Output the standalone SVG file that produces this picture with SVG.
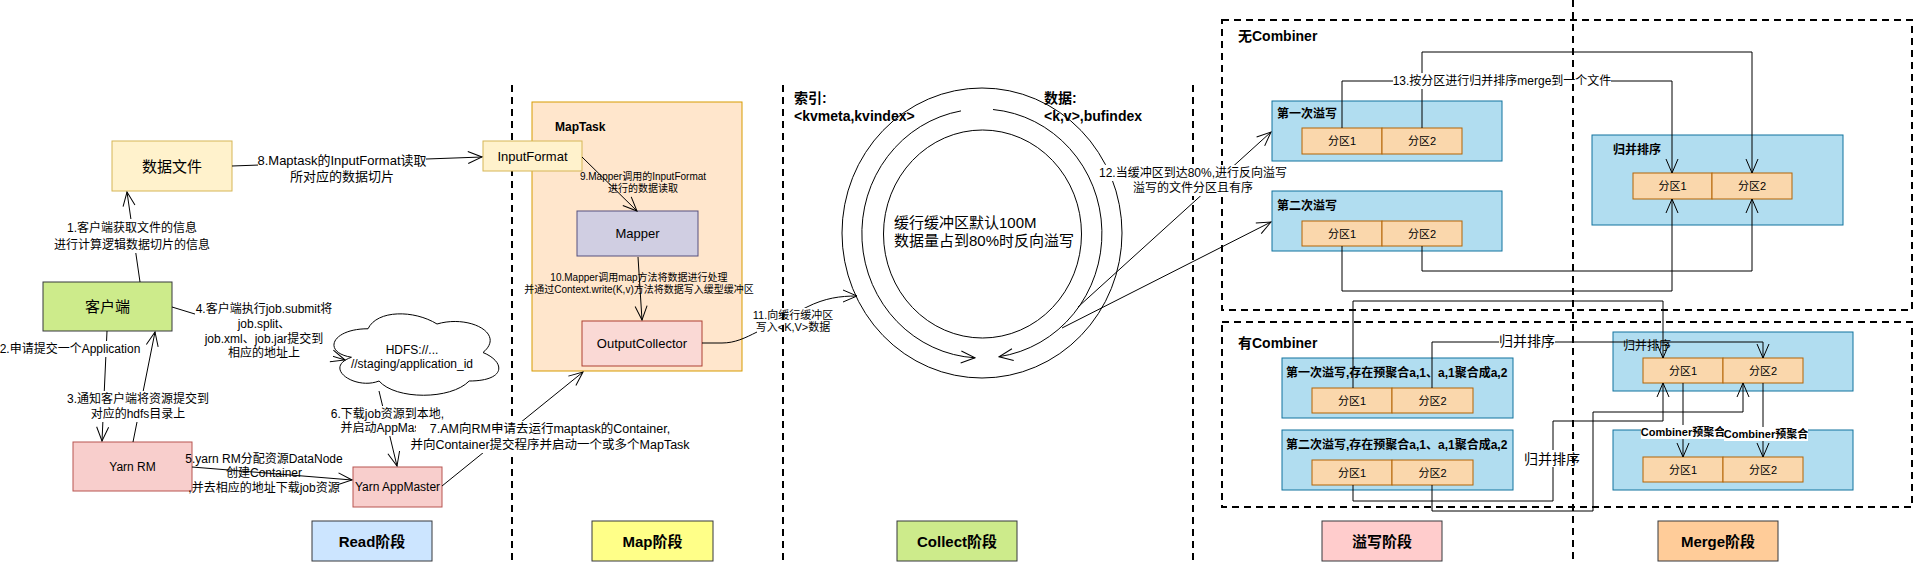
<svg xmlns="http://www.w3.org/2000/svg" width="1914" height="563" viewBox="0 0 1914 563">
<defs>
<style>
text{font-family:"Liberation Sans","Noto Sans CJK SC",sans-serif;fill:#000;dominant-baseline:central}
.c{text-anchor:middle}
.b{font-weight:bold}
.ln{stroke:#000;stroke-width:1;fill:none}
.ar{marker-end:url(#arr)}
.dash{stroke:#000;stroke-width:2;stroke-dasharray:7 5;fill:none}
.bg{fill:#fff}
.f10{font-size:10px}
.f11{font-size:11px}
.f12{font-size:12px}
.f13{font-size:13px}
.f14{font-size:14px}
.f15{font-size:15px}
.spill{fill:#b1ddf0;stroke:#10739e}
.part{fill:#fad7ac;stroke:#b46504}
.phase{stroke:#36393d}
</style>
<marker id="arr" markerUnits="userSpaceOnUse" markerWidth="16" markerHeight="14" viewBox="0 0 16 14" refX="15" refY="7" orient="auto"><path d="M1,1 L15,7 L1,13" fill="none" stroke="#000" stroke-width="1"/></marker>
</defs>
<rect x="0" y="0" width="1914" height="563" fill="#fff"/>

<g id="containers">
<line class="dash" x1="512" y1="85" x2="512" y2="563"/>
<line class="dash" x1="1193" y1="85" x2="1193" y2="563"/>
<rect class="dash" x="1222" y="20" width="690" height="290"/>
<text class="b f14" x="1238" y="36">无Combiner</text>
<rect class="dash" x="1222" y="322" width="690" height="185"/>
<text class="b f14" x="1238" y="343">有Combiner</text>
</g>

<g id="data-file"><rect x="112" y="141" width="120" height="50" fill="#fff2cc" stroke="#d6b656"/><text class="c f15" x="172" y="166">数据文件</text></g>
<g id="client"><rect x="43" y="282" width="129" height="49" fill="#cdeb8b" stroke="#36393d"/><text class="c f15" x="107.5" y="306.5">客户端</text></g>
<g id="yarn-rm"><rect x="73" y="442" width="119" height="49" fill="#f8cecc" stroke="#b85450"/><text class="c f12" x="132.5" y="466.5">Yarn RM</text></g>
<g id="app-master"><rect x="353" y="467" width="89" height="40" fill="#f8cecc" stroke="#b85450"/><text class="c f12" x="397.5" y="487">Yarn AppMaster</text></g>
<g id="hdfs">
<path d="M368,328.75 C331.2,328.75 322,352.5 351.44,357.25 C322,367.7 355.12,390.5 379.04,381 C395.6,400 450.8,400 469.2,381 C506,381 506,362 483,352.5 C506,333.5 469.2,314.5 437,324 C414,309.75 377.2,309.75 368,328.75 Z" fill="#fff" stroke="#000"/>
<text class="c f12" x="412" y="350">HDFS://...</text>
<text class="c f12" x="412" y="364">//staging/application_id</text>
</g>
<g id="maptask"><rect x="532" y="102" width="210" height="269" fill="#ffe6cc" stroke="#d79b00"/><text class="b f12" x="555" y="127">MapTask</text></g>
<g id="inputformat"><rect x="483" y="141" width="99" height="30" fill="#fff2cc" stroke="#d6b656"/><text class="c f13" x="532.5" y="156">InputFormat</text></g>
<g id="mapper"><rect x="577" y="211" width="121" height="45" fill="#d0cee2" stroke="#56517e"/><text class="c f13" x="637.5" y="233.5">Mapper</text></g>
<g id="outputcollector"><rect x="582" y="321" width="120" height="45" fill="#fad9d5" stroke="#ae4132"/><text class="c f13" x="642" y="343.5">OutputCollector</text></g>

<g id="ring-buffer">
<ellipse cx="982" cy="233" rx="140" ry="145" fill="none" stroke="#000"/>
<ellipse cx="982.5" cy="234" rx="99" ry="104" fill="none" stroke="#000"/>
<text class="f15" x="894" y="222">缓行缓冲区默认100M</text>
<text class="f15" x="894" y="240">数据量占到80%时反向溢写</text>
</g>
<g id="index-label"><text class="b f14" x="794" y="98">索引:</text><text class="b f14" x="794" y="116">&lt;kvmeta,kvindex&gt;</text></g>
<g id="data-label"><text class="b f14" x="1044" y="98">数据:</text><text class="b f14" x="1044" y="116">&lt;k,v&gt;,bufindex</text></g>

<g id="spill1-nc"><rect class="spill" x="1272" y="101" width="230" height="60"/><text class="b f12" x="1277" y="114">第一次溢写</text>
<rect class="part" x="1302" y="128" width="80" height="26"/><text class="c f11" x="1342" y="141">分区1</text>
<rect class="part" x="1382" y="128" width="80" height="26"/><text class="c f11" x="1422" y="141">分区2</text></g>
<g id="spill2-nc"><rect class="spill" x="1272" y="191" width="230" height="60"/><text class="b f12" x="1277" y="206">第二次溢写</text>
<rect class="part" x="1302" y="221" width="80" height="25"/><text class="c f11" x="1342" y="233.5">分区1</text>
<rect class="part" x="1382" y="221" width="80" height="25"/><text class="c f11" x="1422" y="233.5">分区2</text></g>
<g id="merge-nc"><rect class="spill" x="1592" y="135" width="251" height="90"/><text class="b f12" x="1613" y="150">归并排序</text>
<rect class="part" x="1633" y="173" width="79" height="26"/><text class="c f11" x="1672.5" y="186">分区1</text>
<rect class="part" x="1712" y="173" width="80" height="26"/><text class="c f11" x="1752" y="186">分区2</text></g>

<g id="spill1-c"><rect class="spill" x="1282" y="358" width="231" height="60"/><text class="b f12" x="1286" y="373">第一次溢写,存在预聚合a,1、a,1聚合成a,2</text>
<rect class="part" x="1312" y="388" width="80" height="25"/><text class="c f11" x="1352" y="400.5">分区1</text>
<rect class="part" x="1392" y="388" width="81" height="25"/><text class="c f11" x="1432.5" y="400.5">分区2</text></g>
<g id="spill2-c"><rect class="spill" x="1282" y="430" width="231" height="60"/><text class="b f12" x="1286" y="445">第二次溢写,存在预聚合a,1、a,1聚合成a,2</text>
<rect class="part" x="1312" y="460" width="80" height="25"/><text class="c f11" x="1352" y="472.5">分区1</text>
<rect class="part" x="1392" y="460" width="81" height="25"/><text class="c f11" x="1432.5" y="472.5">分区2</text></g>
<g id="merge-c"><rect class="spill" x="1613" y="332" width="240" height="59"/><text class="f12" x="1623" y="346">归并排序</text>
<rect class="part" x="1643" y="358" width="80" height="25"/><text class="c f11" x="1683" y="370.5">分区1</text>
<rect class="part" x="1723" y="358" width="80" height="25"/><text class="c f11" x="1763" y="370.5">分区2</text></g>
<g id="combine-c"><rect class="spill" x="1613" y="430" width="240" height="60"/>
<rect class="part" x="1643" y="457" width="80" height="25"/><text class="c f11" x="1683" y="469.5">分区1</text>
<rect class="part" x="1723" y="457" width="80" height="25"/><text class="c f11" x="1763" y="469.5">分区2</text></g>

<g id="phase-read"><rect class="phase" x="312" y="521" width="120" height="40" fill="#cce5ff"/><text class="c b f15" x="372" y="541">Read阶段</text></g>
<g id="phase-map"><rect class="phase" x="592" y="521" width="121" height="40" fill="#ffff88"/><text class="c b f15" x="652.5" y="541">Map阶段</text></g>
<g id="phase-collect"><rect class="phase" x="897" y="521" width="120" height="40" fill="#cdeb8b"/><text class="c b f15" x="957" y="541">Collect阶段</text></g>
<g id="phase-spill"><rect class="phase" x="1322" y="521" width="120" height="40" fill="#ffcccc"/><text class="c b f15" x="1382" y="541">溢写阶段</text></g>
<g id="phase-merge"><rect class="phase" x="1658" y="521" width="120" height="40" fill="#ffcc99"/><text class="c b f15" x="1718" y="541">Merge阶段</text></g>

<g id="connectors">
<line class="ln ar" x1="140" y1="282" x2="127" y2="192"/>
<line class="ln ar" x1="232" y1="166" x2="482" y2="157"/>
<line class="ln ar" x1="107" y1="331" x2="102" y2="441"/>
<line class="ln ar" x1="133" y1="442" x2="155" y2="332"/>
<line class="ln ar" x1="172" y1="307" x2="345" y2="360"/>
<line class="ln ar" x1="192" y1="467" x2="352" y2="480"/>
<line class="ln ar" x1="379" y1="391" x2="397" y2="466"/>
<line class="ln ar" x1="442" y1="486" x2="583" y2="372"/>
<line class="ln ar" x1="582" y1="157" x2="637" y2="211"/>
<line class="ln ar" x1="638" y1="257" x2="642" y2="320"/>
<path class="ln ar" d="M702,343 L722,343 C735,343 745,338 757,332 L807,307 C825,298 840,296 857,296"/>
<path class="ln ar" d="M961,110.9 A120,124.5 0 0 0 975,357.8"/>
<path class="ln ar" d="M993,109.5 A120,124.5 0 0 1 999,356.7"/>
<line class="ln ar" x1="1078" y1="307" x2="1271" y2="132"/>
<line class="ln ar" x1="1062" y1="328" x2="1271" y2="222"/>
<polyline class="ln ar" points="1342,128 1342,81 1672,81 1672,173"/>
<polyline class="ln ar" points="1422,128 1422,52 1752,52 1752,173"/>
<polyline class="ln ar" points="1342,246 1342,291 1672,291 1672,199"/>
<polyline class="ln ar" points="1422,246 1422,271 1752,271 1752,199"/>
<polyline class="ln ar" points="1353,388 1353,301 1663,301 1663,358"/>
<polyline class="ln ar" points="1432,388 1432,342 1763,342 1763,358"/>
<polyline class="ln ar" points="1353,485 1353,501 1553,501 1553,421 1663,421 1663,383"/>
<polyline class="ln ar" points="1432,485 1432,511 1593,511 1593,412 1743,412 1743,383"/>
<line class="ln ar" x1="1683" y1="383" x2="1683" y2="457"/>
<line class="ln ar" x1="1763" y1="383" x2="1763" y2="457"/>

<rect class="bg" x="54" y="219" width="156" height="34"/>
<text class="c f12" x="132" y="228">1.客户端获取文件的信息</text>
<text class="c f12" x="132" y="245">进行计算逻辑数据切片的信息</text>
<rect class="bg" x="258" y="151" width="168" height="33"/>
<text class="c f13" x="342" y="160">8.Maptask的InputFormat读取</text>
<text class="c f13" x="342" y="176">所对应的数据切片</text>
<rect class="bg" x="0" y="341" width="141" height="16"/>
<text class="c f12" x="70" y="349">2.申请提交一个Application</text>
<rect class="bg" x="67" y="391" width="142" height="31"/>
<text class="c f12" x="138" y="399">3.通知客户端将资源提交到</text>
<text class="c f12" x="138" y="414">对应的hdfs目录上</text>
<rect class="bg" x="195" y="301" width="138" height="60"/>
<text class="c f12" x="264" y="309">4.客户端执行job.submit将</text>
<text class="c f12" x="264" y="324">job.split、</text>
<text class="c f12" x="264" y="339">job.xml、job.jar提交到</text>
<text class="c f12" x="264" y="353">相应的地址上</text>
<text class="c f12" x="264" y="459">5.yarn RM分配资源DataNode</text>
<text class="c f12" x="264" y="473">创建Container</text>
<text class="c f12" x="264" y="488">,并去相应的地址下载job资源</text>
<rect class="bg" x="330" y="406" width="115" height="30"/>
<text class="c f12" x="387.5" y="414">6.下载job资源到本地,</text>
<text class="c f12" x="387.5" y="428">并启动AppMaster</text>
<rect class="bg" x="416" y="421" width="269" height="32"/>
<text class="c" font-size="12.5" x="550" y="429">7.AM向RM申请去运行maptask的Container,</text>
<text class="c" font-size="12.5" x="550" y="445">并向Container提交程序并启动一个或多个MapTask</text>
<text class="c f10" x="643" y="176">9.Mapper调用的InputFormat</text>
<text class="c f10" x="643" y="188">进行的数据读取</text>
<text class="c f10" x="639" y="277">10.Mapper调用map方法将数据进行处理</text>
<text class="c f10" x="639" y="289">并通过Context.write(K,v)方法将数据写入缓型缓冲区</text>
<rect class="bg" x="757" y="308" width="72" height="26"/>
<text class="c f11" x="793" y="315">11.向缓行缓冲区</text>
<text class="c f11" x="793" y="327">写入&lt;K,V&gt;数据</text>
<rect class="bg" x="1099" y="165" width="189" height="16"/>
<rect class="bg" x="1133" y="181" width="121" height="15"/>
<text class="c f12" x="1193" y="173">12.当缓冲区到达80%,进行反向溢写</text>
<text class="c f12" x="1193" y="188">溢写的文件分区且有序</text>
<rect class="bg" x="1393" y="73" width="218" height="16"/>
<text class="c f12" x="1502" y="81">13.按分区进行归并排序merge到一个文件</text>
<rect class="bg" x="1499" y="333" width="56" height="17"/>
<text class="c f14" x="1527" y="341">归并排序</text>
<rect class="bg" x="1524" y="450" width="56" height="17"/>
<text class="c f14" x="1552" y="459">归并排序</text>
<rect class="bg" x="1641" y="425" width="84" height="14"/>
<text class="c b f11" x="1683" y="432">Combiner预聚合</text>
<rect class="bg" x="1724" y="427" width="84" height="14"/>
<text class="c b f11" x="1766" y="434">Combiner预聚合</text>
</g>

<g id="stage-dividers">
<line class="dash" x1="783" y1="85" x2="783" y2="563"/>
<line class="dash" x1="1573" y1="0" x2="1573" y2="563"/>
</g>
</svg>
